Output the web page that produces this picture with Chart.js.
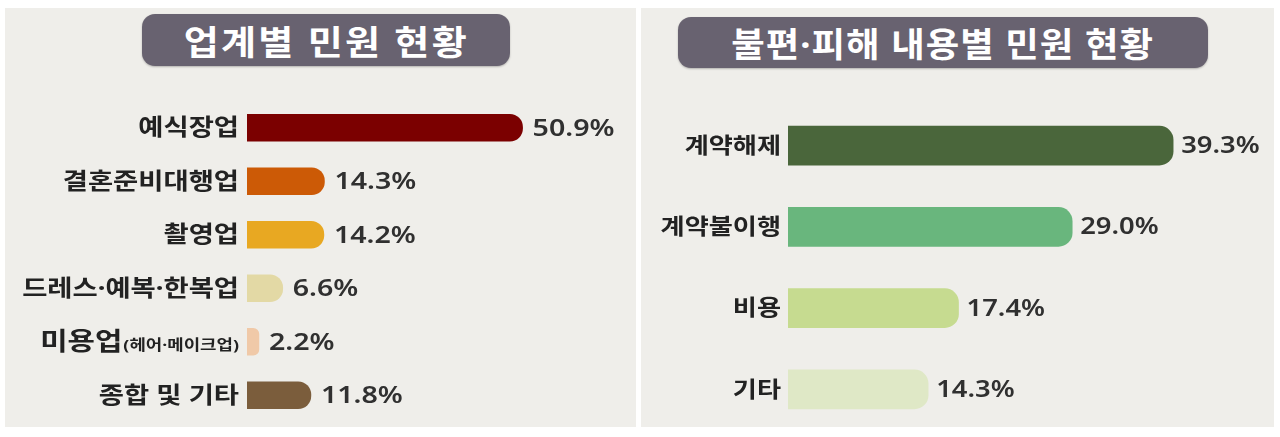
<!DOCTYPE html>
<html>
<head>
<meta charset="utf-8">
<script src="https://cdn.jsdelivr.net/npm/chart.js@4.4.1/dist/chart.umd.min.js"></script>
<style>
  html,body{margin:0;padding:0;background:#ffffff;}
  body{width:1280px;height:437px;position:relative;overflow:hidden;font-family:"Noto Sans","Noto Sans CJK KR",sans-serif;}
  .panel{position:absolute;background:#efeeea;}
  .title{position:absolute;background:#686270;border-radius:13px;color:#ffffff;font-weight:bold;font-size:34px;
         display:flex;align-items:center;justify-content:center;white-space:nowrap;box-shadow:0 1px 2px rgba(0,0,0,0.25);}
  .title span{display:inline-block;transform:scaleX(1.12);letter-spacing:2px;}
  .title span.narrow{transform:scaleX(1.07);letter-spacing:1px;}
  .box{position:absolute;}
</style>
</head>
<body>
<div class="panel" style="left:5px;top:8px;width:631px;height:419px"></div>
<div class="panel" style="left:641px;top:8px;width:633px;height:419px"></div>
<div class="title" style="left:142px;top:14px;width:368px;height:52px"><span>업계별 민원 현황</span></div>
<div class="title" style="left:678px;top:17px;width:530px;height:51px"><span class="narrow">불편·피해 내용별 민원 현황</span></div>
<div class="box" style="left:5px;top:8px;width:631px;height:429px"><canvas id="c1"></canvas></div>
<div class="box" style="left:641px;top:8px;width:633px;height:429px"><canvas id="c2"></canvas></div>
<script>
// ---- data ----
const industryLabels = ['예식장업','결혼준비대행업','촬영업','드레스·예복·한복업','미용업','종합 및 기타'];
const industrySubLabels = ['','','','','(헤어·메이크업)',''];
const industryValues = [50.9, 14.3, 14.2, 6.6, 2.2, 11.8];
const industryColors = ['#7b0000','#cc5a06','#e8a822','#e3d9a5','#f0c9a8','#7b5d3c'];

const issueLabels = ['계약해제','계약불이행','비용','기타'];
const issueValues = [39.3, 29.0, 17.4, 14.3];
const issueColors = ['#4a663b','#69b67d','#c6db90','#dfe8c6'];

const SX = 1.19; // horizontal stretch of text in reference
const FAM = '"Noto Sans", "Noto Sans CJK KR"';

function drawText(ctx, text, x, y, align, font, color){
  ctx.save();
  ctx.font = font; ctx.fillStyle = color; ctx.textBaseline = 'middle'; ctx.textAlign = 'left';
  const w = ctx.measureText(text).width * SX;
  const x0 = align === 'right' ? x - w : x;
  ctx.translate(x0, y); ctx.scale(SX, 1); ctx.fillText(text, 0, 0);
  ctx.restore();
  return w;
}

function makeLabelPlugin(cfg){
  return {
    id: 'barLabels',
    afterDatasetsDraw(chart){
      const ctx = chart.ctx;
      const meta = chart.getDatasetMeta(0);
      const left = chart.chartArea.left;
      chart.data.labels.forEach((lab, i) => {
        const bar = meta.data[i];
        const y = bar.y + 1;
        const sub = cfg.sub ? cfg.sub[i] : '';
        if (sub) {
          const w = drawText(ctx, sub, left - cfg.labelGap, y + 3, 'right', cfg.subFont, cfg.labelColor);
          drawText(ctx, lab, left - cfg.labelGap - w - 1, y, 'right', cfg.bigFont, cfg.labelColor);
        } else {
          drawText(ctx, lab, left - cfg.labelGap, y, 'right', cfg.labelFont, cfg.labelColor);
        }
        const v = chart.data.datasets[0].data[i];
        drawText(ctx, v.toFixed(1) + '%', bar.x + cfg.valueGap, y, 'left', cfg.valueFont, cfg.valueColor);
      });
    }
  };
}

function makeChart(id, labels, values, colors, opts){
  return new Chart(document.getElementById(id), {
    type: 'bar',
    data: { labels: labels, datasets: [{ data: values, backgroundColor: colors, borderWidth: 0,
            borderRadius: opts.radius, borderSkipped: 'start', barThickness: opts.thickness }] },
    options: {
      indexAxis: 'y', responsive: true, maintainAspectRatio: false, animation: false,
      layout: { padding: opts.padding },
      plugins: { legend: { display: false }, tooltip: { enabled: false } },
      scales: {
        x: { display: false, min: 0, max: opts.max, grid: { display: false } },
        y: { display: false, offset: true, grid: { display: false } }
      }
    },
    plugins: [makeLabelPlugin(opts.text)]
  });
}

makeChart('c1', industryLabels, industryValues, industryColors, {
  max: 70, thickness: 27, radius: 13,
  padding: { left: 242, right: 10, top: 93, bottom: 15 },
  text: { sub: industrySubLabels, labelGap: 8, valueGap: 10,
          labelFont: 'bold 23px ' + FAM, bigFont: 'bold 25px ' + FAM, subFont: 'bold 15px ' + FAM,
          valueFont: '600 24px ' + FAM, labelColor: '#222222', valueColor: '#303030' }
});

makeChart('c2', issueLabels, issueValues, issueColors, {
  max: 45, thickness: 39, radius: 14,
  padding: { left: 147, right: 45, top: 97, bottom: 7 },
  text: { labelGap: 7, valueGap: 8,
          labelFont: 'bold 22px ' + FAM, bigFont: 'bold 22px ' + FAM, subFont: 'bold 13px ' + FAM,
          valueFont: '600 23px ' + FAM, labelColor: '#222222', valueColor: '#303030' }
});
</script>
</body>
</html>
